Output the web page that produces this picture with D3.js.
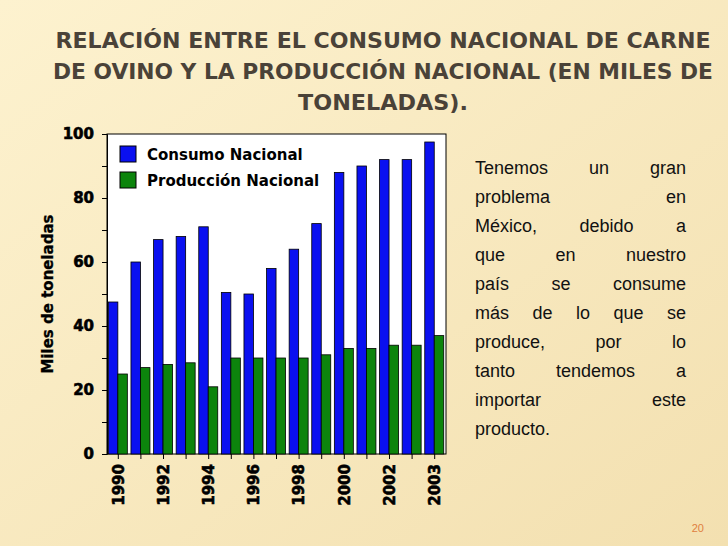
<!DOCTYPE html>
<html><head><meta charset="utf-8">
<script src="https://cdn.jsdelivr.net/npm/d3@7"></script>
<style>body{margin:0;}svg{display:block;}</style>
</head><body>
<script>
const years = ["1990","1991","1992","1993","1994","1995","1996","1997","1998","1999","2000","2001","2002","2002b","2003"];
const tickLabels = ["1990","","1992","","1994","","1996","","1998","","2000","","2002","","2003"];
const consumo = [47.5,60,67,68,71,50.5,50,58,64,72,88,90,92,92,97.5];
const produccion = [25,27,28,28.5,21,30,30,30,30,31,33,33,34,34,37];
const yTicks = [0,20,40,60,80,100];
const seriesNames = ["Consumo Nacional","Producción Nacional"];
const colors = ["#0a10f0","#0c840c"];

const W=728,H=546;
const svg=d3.select("body").append("svg").attr("width",W).attr("height",H);
const defs=svg.append("defs");
const g1=defs.append("linearGradient").attr("id","bg").attr("x1",0).attr("y1",0).attr("x2",1).attr("y2",1);
g1.append("stop").attr("offset","0").attr("stop-color","#fdf2cf");
g1.append("stop").attr("offset","1").attr("stop-color","#f3e0b0");
svg.append("rect").attr("width",W).attr("height",H).attr("fill","url(#bg)");

[["RELACIÓN ENTRE EL CONSUMO NACIONAL DE CARNE",48,655],["DE OVINO Y LA PRODUCCIÓN NACIONAL (EN MILES DE",79,660],["TONELADAS).",110,170]]
 .forEach(([t,yy,len])=>svg.append("text").attr("x",383).attr("y",yy).attr("text-anchor","middle")
  .attr("font-family","'DejaVu Sans Condensed','DejaVu Sans',sans-serif").attr("font-weight","bold").attr("font-size",22)
  .attr("fill","#4a4238").attr("textLength",len).attr("lengthAdjust","spacingAndGlyphs").text(t));

const x0=107,x1=446,yTop=134,yBot=454;
const x=d3.scaleBand().domain(d3.range(years.length)).range([x0,x1]).paddingInner(0.0).paddingOuter(0);
const y=d3.scaleLinear().domain([0,100]).range([yBot,yTop]);
svg.append("rect").attr("x",x0).attr("y",yTop).attr("width",x1-x0).attr("height",yBot-yTop).attr("fill","#fff").attr("stroke","#000").attr("stroke-width",1);

const bw=x.bandwidth();
const barW=bw*0.42;
[consumo,produccion].forEach((arr,s)=>{
 svg.append("g").selectAll("rect").data(arr).join("rect")
  .attr("x",(d,i)=>x(i)+bw*0.06+s*barW)
  .attr("y",d=>y(d)).attr("width",barW).attr("height",d=>y(0)-y(d))
  .attr("fill",colors[s]).attr("stroke","#000").attr("stroke-width",0.8);
});

const ff="'DejaVu Sans',sans-serif";
const ya=svg.append("g").attr("transform",`translate(${x0},0)`)
 .call(d3.axisLeft(y).tickValues(d3.range(0,101,10)).tickSize(5).tickFormat(d=>yTicks.includes(d)?d:""));
ya.select(".domain").attr("stroke","#000");
ya.selectAll("text").attr("font-family",ff).attr("font-weight","bold").attr("font-size",15).attr("fill","#000").attr("dx",-5).attr("stroke","#000").attr("stroke-width",0.6);

const xa=svg.append("g").attr("transform",`translate(0,${yBot})`)
 .call(d3.axisBottom(x).tickSize(5).tickFormat(i=>tickLabels[i]));
xa.select(".domain").remove();
xa.selectAll("text").attr("font-family",ff).attr("font-weight","bold").attr("font-size",15).attr("fill","#000").attr("stroke","#000").attr("stroke-width",0.6)
 .attr("transform","rotate(-90)").attr("text-anchor","end").attr("x",-10).attr("y",0).attr("dy","0.35em");

svg.append("text").attr("transform","translate(53,294) rotate(-90)").attr("text-anchor","middle")
 .attr("font-family",ff).attr("font-weight","bold").attr("font-size",15).attr("stroke","#000").attr("stroke-width",0.3).text("Miles de toneladas");

seriesNames.forEach((n,i)=>{
 const yy=146+i*26;
 svg.append("rect").attr("x",120).attr("y",yy).attr("width",16).attr("height",16).attr("fill",colors[i]).attr("stroke","#000");
 svg.append("text").attr("x",147).attr("y",yy+14).attr("font-family",ff).attr("font-weight","bold").attr("font-size",15).text(n);
});

const para=[["Tenemos","un","gran"],["problema","en"],["México,","debido","a"],["que","en","nuestro"],["país","se","consume"],["más","de","lo","que","se"],["produce,","por","lo"],["tanto","tendemos","a"],["importar","este"],["producto."]];
const pl=475,pr=686;
para.forEach((words,li)=>{
 const yy=174+li*29;
 const nodes=words.map(w=>svg.append("text").attr("y",yy).attr("font-family","'Liberation Sans',Arial,sans-serif").attr("font-size",18).attr("fill","#111").text(w));
 const ws=nodes.map(n=>n.node().getComputedTextLength());
 const gap=li===para.length-1?5:(pr-pl-d3.sum(ws))/(words.length-1);
 let cx=pl;
 nodes.forEach((n,k)=>{n.attr("x",cx);cx+=ws[k]+gap;});
});
svg.append("text").attr("x",704).attr("y",532).attr("text-anchor","end").attr("font-family","'Liberation Sans',Arial,sans-serif").attr("font-size",11).attr("fill","#e08040").text("20");
</script>
</body></html>
